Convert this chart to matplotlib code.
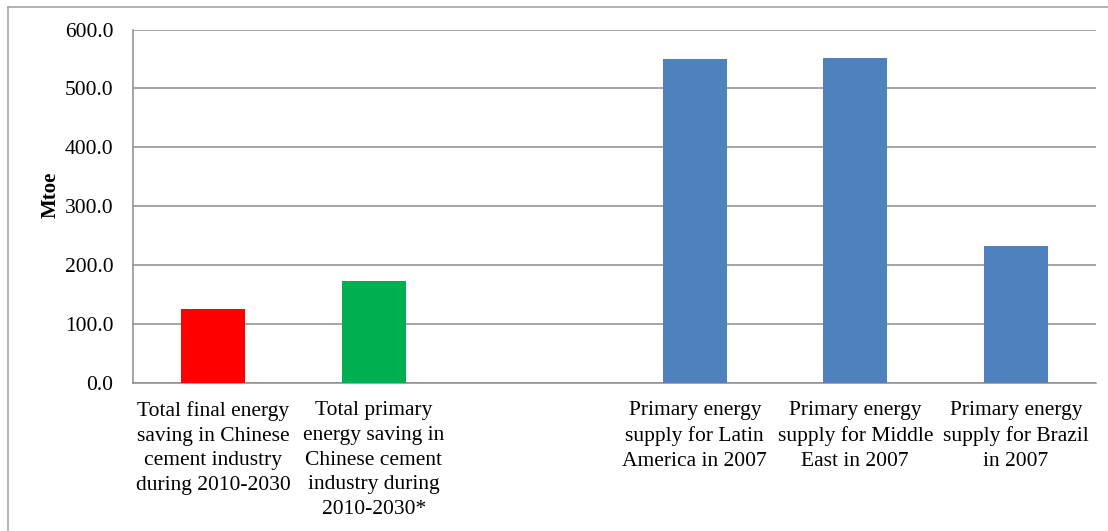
import matplotlib
matplotlib.use("Agg")
import matplotlib.pyplot as plt
from matplotlib.lines import Line2D

categories = [
    "Total final energy\nsaving in Chinese\ncement industry\nduring 2010-2030",
    "Total primary\nenergy saving in\nChinese cement\nindustry during\n2010-2030*",
    "",
    "Primary energy\nsupply for Latin\nAmerica in 2007",
    "Primary energy\nsupply for Middle\nEast in 2007",
    "Primary energy\nsupply for Brazil\nin 2007",
]
values = [126.0, 173.5, 0.0, 549.5, 551.5, 233.0]
colors = ["#FF0000", "#00B050", "#4F81BD", "#4F81BD", "#4F81BD", "#4F81BD"]
yticks = [0, 100, 200, 300, 400, 500, 600]

plt.rcParams["font.family"] = ["Liberation Serif", "DejaVu Serif"]

fig = plt.figure(figsize=(11.08, 5.31), dpi=100)
ax = fig.add_axes([0.12, 0.2782, 0.8692, 0.6662])

x = list(range(len(categories)))
ax.bar(x, values, width=0.4, color=colors, zorder=3)

ax.set_xlim(-0.5, len(categories) - 0.5)
ax.set_ylim(0, 600)
ax.set_yticks(yticks)
ax.set_yticklabels([f"{v:.1f}" for v in yticks], fontsize=15.5)
ax.set_xticks(x)
ax.set_xticklabels(categories, fontsize=15.5, linespacing=1.4)
ax.tick_params(axis="y", length=0, pad=14)
ax.tick_params(axis="x", length=0, pad=13)

ax.grid(axis="y", color="#8c8c8c", linewidth=1.1, zorder=0)
ax.set_axisbelow(True)
for side in ("top", "right"):
    ax.spines[side].set_visible(False)
for side in ("left", "bottom"):
    ax.spines[side].set_color("#8c8c8c")
    ax.spines[side].set_linewidth(1.1)

ax.set_ylabel("Mtoe", fontsize=15, fontweight="bold")
ax.yaxis.set_label_coords(-0.075, 0.532)

# chart-area frame (left and top edges)
fig.add_artist(Line2D([8 / 1108, 8 / 1108], [0, 1 - 7 / 531],
                      transform=fig.transFigure, color="#a6a6a6", linewidth=1.2))
fig.add_artist(Line2D([8 / 1108, 1], [1 - 7 / 531, 1 - 7 / 531],
                      transform=fig.transFigure, color="#a6a6a6", linewidth=1.2))

fig.savefig("out.png", dpi=100)
